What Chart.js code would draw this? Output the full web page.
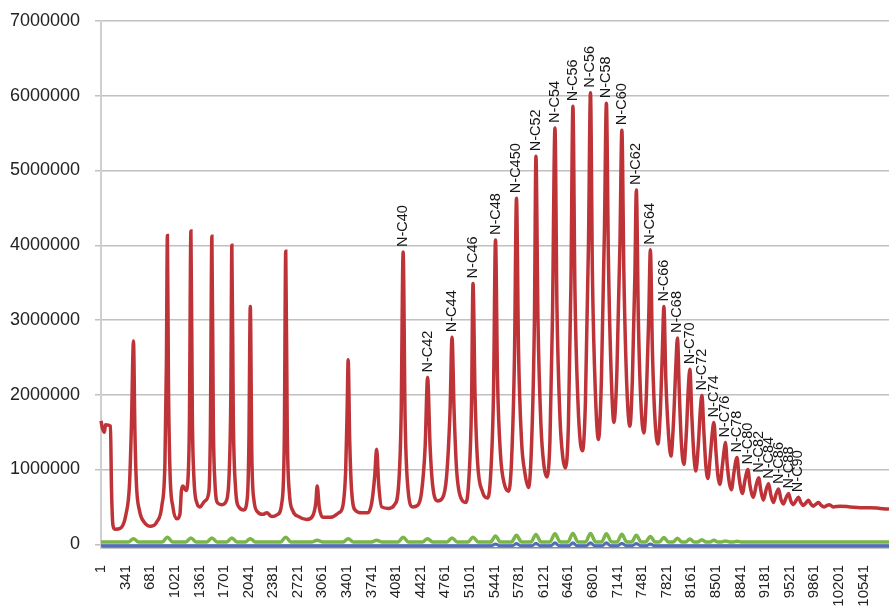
<!DOCTYPE html>
<html><head><meta charset="utf-8">
<script src="https://cdn.jsdelivr.net/npm/chart.js@4"></script>
<style>html,body{margin:0;padding:0;background:#fff;}canvas{display:block;}</style>
</head><body>
<canvas id="c" width="889" height="609"></canvas>
<script>
const xTickValues = [1,341,681,1021,1361,1701,2041,2381,2721,3061,3401,3741,4081,4421,4761,5101,5441,5781,6121,6461,6801,7141,7481,7821,8161,8501,8841,9181,9521,9861,10201,10541];
const yTickValues = [0,1000000,2000000,3000000,4000000,5000000,6000000,7000000];

const redTrace = [
[1,1650000],[22,1550000],[49,1500000],[63,1600000],[132,1580000],[146,750000],[167,250000],[194,200000],[277,220000],[346,400000],
[395,800000],[422,1600000],[450,2720000],[470,1500000],[491,800000],[533,450000],[595,300000],[691,240000],[774,300000],[843,520000],
[885,1100000],[905,2400000],[919,4130000],[933,2200000],[954,1000000],[995,500000],[1050,340000],[1092,400000],[1113,720000],[1133,780000],
[1175,720000],[1202,850000],[1223,1600000],[1244,4190000],[1264,1700000],[1285,900000],[1327,550000],[1368,500000],[1437,580000],[1492,700000],
[1513,1500000],[1534,4120000],[1554,1600000],[1575,850000],[1616,550000],[1672,530000],[1741,600000],[1775,1000000],[1796,2000000],[1810,4000000],
[1830,1700000],[1858,800000],[1906,500000],[1975,460000],[2024,620000],[2045,1300000],[2065,3180000],[2086,1200000],[2114,600000],[2169,430000],
[2238,400000],[2293,420000],[2362,370000],[2445,400000],[2500,550000],[2535,1400000],[2555,3920000],[2576,1500000],[2604,700000],[2652,450000],
[2735,370000],[2845,330000],[2928,380000],[2970,550000],[2990,780000],[3018,500000],[3066,360000],[3177,360000],[3287,420000],[3342,500000],
[3384,1000000],[3404,1800000],[3418,2470000],[3439,1400000],[3467,700000],[3522,450000],[3605,420000],[3688,420000],[3743,550000],[3784,900000],
[3812,1270000],[3840,800000],[3881,500000],[3978,480000],[4060,530000],[4116,800000],[4150,1700000],[4178,3910000],[4205,1700000],[4240,800000],
[4309,500000],[4378,520000],[4433,700000],[4482,1300000],[4516,2230000],[4551,1300000],[4585,800000],[4654,580000],[4723,620000],[4778,900000],
[4827,1800000],[4854,2770000],[4882,1800000],[4917,1000000],[4986,600000],[5041,560000],[5082,800000],[5124,1900000],[5144,3490000],[5172,2000000],
[5207,1100000],[5276,700000],[5345,620000],[5386,900000],[5427,2000000],[5455,4070000],[5483,2200000],[5524,1200000],[5579,800000],[5635,710000],
[5676,1100000],[5717,2500000],[5745,4630000],[5773,2600000],[5814,1400000],[5862,950000],[5911,760000],[5952,1300000],[5993,3000000],[6014,5190000],
[6042,3000000],[6083,1600000],[6125,1050000],[6166,900000],[6208,1400000],[6242,3000000],[6277,5570000],[6304,3200000],[6346,1700000],[6387,1150000],
[6422,1020000],[6463,1600000],[6498,3500000],[6525,5860000],[6553,3400000],[6595,1900000],[6629,1350000],[6657,1250000],[6698,1900000],[6740,4000000],
[6768,6040000],[6795,3600000],[6837,2000000],[6878,1400000],[6919,2200000],[6961,4200000],[6988,5900000],[7016,3800000],[7057,2200000],[7092,1630000],
[7133,2300000],[7175,4000000],[7202,5540000],[7230,3600000],[7271,2100000],[7313,1580000],[7347,2200000],[7382,3600000],[7402,4740000],[7430,3000000],
[7465,1900000],[7506,1490000],[7541,2000000],[7575,3100000],[7596,3940000],[7624,2600000],[7658,1700000],[7700,1340000],[7735,1800000],[7762,2600000],
[7783,3180000],[7810,2200000],[7845,1500000],[7880,1180000],[7914,1600000],[7949,2400000],[7970,2760000],[7997,2000000],[8025,1350000],[8059,1070000],
[8094,1500000],[8121,2100000],[8142,2340000],[8170,1700000],[8197,1200000],[8225,980000],[8260,1350000],[8287,1800000],[8308,1990000],[8336,1500000],
[8363,1050000],[8391,880000],[8426,1200000],[8453,1500000],[8474,1630000],[8502,1250000],[8529,920000],[8557,800000],[8591,1050000],[8619,1280000],
[8633,1360000],[8660,1050000],[8688,820000],[8716,730000],[8750,950000],[8778,1120000],[8795,1160000],[8819,920000],[8847,740000],[8868,680000],
[8902,850000],[8930,970000],[8944,1000000],[8971,800000],[8999,670000],[9020,630000],[9061,800000],[9093,890000],[9123,720000],[9158,590000],
[9199,740000],[9231,810000],[9261,660000],[9296,560000],[9337,680000],[9369,740000],[9399,610000],[9434,540000],[9475,630000],[9506,680000],
[9537,580000],[9572,530000],[9613,590000],[9643,630000],[9675,560000],[9710,520000],[9751,560000],[9782,590000],[9813,540000],[9848,510000],
[9889,540000],[9920,560000],[9958,520000],[9999,500000],[10040,520000],[10072,530000],[10123,500000],[10219,510000],[10357,500000],[10495,490000],
[10633,490000],[10771,480000],[10895,470000]
];

const greenTrace = [
[1,30000],[380,30000],[450,75000],[520,30000],[850,30000],[919,95000],[990,30000],[1175,30000],[1244,85000],[1315,30000],
[1465,30000],[1534,85000],[1605,30000],[1740,30000],[1810,85000],[1880,30000],[1995,30000],[2065,75000],[2135,30000],
[2485,30000],[2555,95000],[2625,30000],[2920,30000],[2990,55000],[3060,30000],[3350,30000],[3418,75000],[3490,30000],
[3745,30000],[3812,55000],[3880,30000],[4110,30000],[4178,95000],[4250,30000],[4445,30000],[4516,75000],[4585,30000],
[4785,30000],[4854,85000],[4925,30000],[5075,30000],[5144,95000],[5215,30000],[5385,30000],[5455,110000],[5525,30000],
[5675,30000],[5745,120000],[5815,30000],[5945,30000],[6014,130000],[6085,30000],[6205,30000],[6277,140000],[6350,30000],
[6455,30000],[6525,145000],[6595,30000],[6700,30000],[6768,145000],[6840,30000],[6920,30000],[6988,140000],[7060,30000],
[7135,30000],[7202,135000],[7270,30000],[7335,30000],[7402,120000],[7470,30000],[7530,30000],[7596,105000],[7660,30000],
[7720,30000],[7783,90000],[7845,30000],[7910,30000],[7970,80000],[8030,30000],[8085,30000],[8142,70000],[8200,30000],
[8250,30000],[8308,60000],[8365,30000],[8420,30000],[8474,55000],[8530,30000],[8580,30000],[8633,45000],[8690,30000],
[8745,30000],[8795,40000],[8850,30000],[10895,30000]
];

const blueTrace = [
[1,-20000],[5400,-20000],[5455,5000],[5510,-20000],[5690,-20000],[5745,10000],[5800,-20000],[5960,-20000],[6014,15000],[6070,-20000],
[6220,-20000],[6277,20000],[6335,-20000],[6470,-20000],[6525,20000],[6580,-20000],[6710,-20000],[6768,20000],[6825,-20000],[6930,-20000],
[6988,20000],[7045,-20000],[7145,-20000],[7202,15000],[7260,-20000],[7345,-20000],[7402,10000],[7460,-20000],[7540,-20000],[7596,5000],
[7650,-20000],[10895,-20000]
];

const peakLabels = ['N-C40','N-C42','N-C44','N-C46','N-C48','N-C450','N-C52','N-C54','N-C56','N-C56','N-C58','N-C60','N-C62','N-C64','N-C66','N-C68','N-C70','N-C72','N-C74','N-C76','N-C78','N-C80','N-C82','N-C84','N-C86','N-C88','N-C90'];
const peakLabelX = [4178,4516,4854,5144,5455,5745,6014,6277,6525,6768,6988,7202,7402,7596,7783,7970,8142,8308,8474,8633,8795,8944,9093,9231,9369,9506,9643];
const peakLabelY = [3910000,2230000,2770000,3490000,4070000,4630000,5190000,5570000,5860000,6040000,5900000,5540000,4740000,3940000,3180000,2760000,2340000,1990000,1630000,1360000,1160000,1000000,890000,810000,740000,680000,630000];

const FONT = "'Liberation Sans', Arial, sans-serif";

const peakLabelPlugin = {
  id: 'peakLabels',
  afterDatasetsDraw(chart) {
    const ctx = chart.ctx, xs = chart.scales.x, ys = chart.scales.y;
    ctx.save();
    ctx.font = '14.5px ' + FONT;
    ctx.fillStyle = '#151515';
    ctx.textAlign = 'left';
    ctx.textBaseline = 'middle';
    peakLabels.forEach((t, i) => {
      const px = xs.getPixelForValue(peakLabelX[i]);
      const py = ys.getPixelForValue(peakLabelY[i]) - 5;
      ctx.save();
      ctx.translate(px, py);
      ctx.rotate(-Math.PI / 2);
      ctx.fillText(t, 0, 0);
      ctx.restore();
    });
    ctx.restore();
  }
};

const toPts = arr => arr.map(p => ({x: p[0], y: p[1]}));

new Chart(document.getElementById('c').getContext('2d'), {
  type: 'line',
  data: {
    datasets: [
      {data: toPts(redTrace), borderColor: '#be3338', borderWidth: 3.5, pointRadius: 0, cubicInterpolationMode: 'monotone', fill: false, clip: false},
      {data: toPts(greenTrace), borderColor: '#7ab547', borderWidth: 3.5, pointRadius: 0, cubicInterpolationMode: 'monotone', fill: false, clip: false},
      {data: toPts(blueTrace), borderColor: '#4f6fb8', borderWidth: 3, pointRadius: 0, cubicInterpolationMode: 'monotone', fill: false, clip: false}
    ]
  },
  options: {
    responsive: false,
    animation: false,
    layout: {padding: {left: 10, top: 21, right: 0, bottom: 0}},
    plugins: {legend: {display: false}, tooltip: {enabled: false}},
    scales: {
      x: {
        type: 'linear', min: 1, max: 10895,
        afterBuildTicks: s => { s.ticks = xTickValues.map(v => ({value: v})); },
        afterFit: s => { s.height = 61; s.paddingLeft = 0; s.paddingRight = 0; },
        ticks: {autoSkip: false, minRotation: 90, maxRotation: 90, padding: 17, color: '#222',
                font: {family: FONT, size: 15}, callback: v => String(v)},
        grid: {display: false, drawTicks: false},
        border: {display: true, color: '#8c8c8c', width: 1.5}
      },
      y: {
        min: -50000, max: 7000000,
        afterBuildTicks: s => { s.ticks = yTickValues.map(v => ({value: v})); },
        afterFit: s => { s.width = 91; s.paddingTop = 0; s.paddingBottom = 0; },
        ticks: {padding: 15, color: '#222', font: {family: FONT, size: 18}, callback: v => String(v)},
        grid: {color: '#c0c0c0', lineWidth: 1.5, tickLength: 6, drawTicks: true},
        border: {color: '#cfcfcf', width: 2}
      }
    }
  },
  plugins: [peakLabelPlugin]
});
</script>
</body></html>
